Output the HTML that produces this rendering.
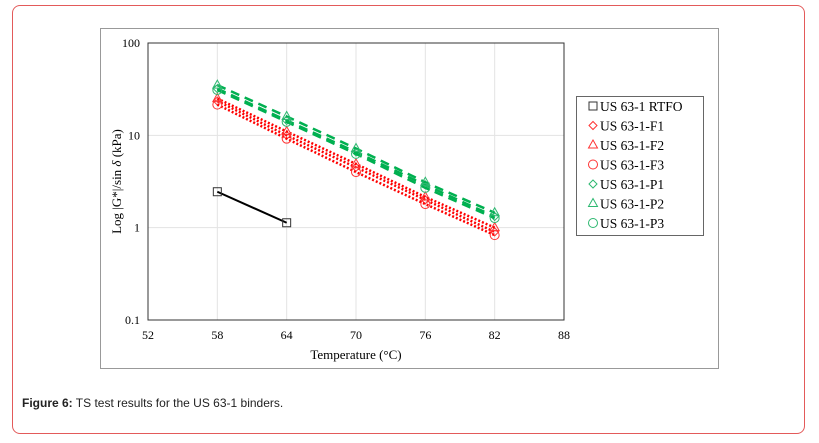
<!DOCTYPE html>
<html><head><meta charset="utf-8"><style>
body{margin:0;background:#fff;width:819px;height:443px;overflow:hidden;font-family:"Liberation Sans",sans-serif}
#card{position:absolute;left:12px;top:5px;width:791px;height:427px;border:1px solid #e35a5a;border-radius:8px}
#cap{position:absolute;left:22px;top:396px;font-size:12px;color:#222}
svg text{font-family:"Liberation Serif",serif}
</style></head><body>
<div id="card"></div>
<svg id="chart" width="819" height="443" style="position:absolute;left:0;top:0"></svg>
<div id="cap"><b>Figure 6:</b> TS test results for the US 63-1 binders.</div>
<script>
const temps=[58,64,70,76,82];
const rtfoT=[58,64];
const rtfo=[2.45,1.13];
const f1=[23.5,10,4.5,2.0,0.9];
const f2=[25,11,4.9,2.15,1.0];
const f3=[21.5,9.2,4.0,1.8,0.83];
const p1=[32,14.5,6.6,2.9,1.32];
const p2=[35,16,7.2,3.1,1.45];
const p3=[31,14,6.3,2.7,1.27];
const xTicks=[52,58,64,70,76,82,88];
const yTicks=[0.1,1,10,100];
const yLabels=["0.1","1","10","100"];
const legendNames=["US 63-1 RTFO","US 63-1-F1","US 63-1-F2","US 63-1-F3","US 63-1-P1","US 63-1-P2","US 63-1-P3"];
const L=148,R=564,T=43,B=320;
const NS="http://www.w3.org/2000/svg";
const svg=document.getElementById('chart');
const x=v=>L+(v-52)/(88-52)*(R-L);
const y=v=>B-(Math.log10(v)+1)/3*(B-T);
function mk(t,a,p){const e=document.createElementNS(NS,t);for(const k in a)e.setAttribute(k,a[k]);(p||svg).appendChild(e);return e;}
let e=mk('rect',{x:100.5,y:28.5,width:618,height:340,fill:'none',stroke:'#999'});


xTicks.forEach(v=>{const g=mk('line',{x1:x(v),x2:x(v),y1:T,y2:B,stroke:'#e3e3e3'});


const t=mk('text',{x:x(v),y:B+19,'text-anchor':'middle','font-size':12});t.textContent=v;

});
yTicks.forEach((v,i)=>{const g=mk('line',{x1:L,x2:R,y1:y(v),y2:y(v),stroke:'#e3e3e3'});


const t=mk('text',{x:L-8,y:y(v)+4,'text-anchor':'end','font-size':12});t.textContent=yLabels[i];

});
e=mk('rect',{x:L,y:T,width:R-L,height:B-T,fill:'none',stroke:'#333'});


function marker(type,cx,cy,col,p){
 if(type==='sq')return mk('rect',{x:cx-4,y:cy-4,width:8,height:8,fill:'none',stroke:col},p);
 if(type==='di')return mk('polygon',{points:`${cx},${cy-4} ${cx+4},${cy} ${cx},${cy+4} ${cx-4},${cy}`,fill:'none',stroke:col},p);
 if(type==='tr')return mk('polygon',{points:`${cx},${cy-5} ${cx+4.5},${cy+3} ${cx-4.5},${cy+3}`,fill:'none',stroke:col},p);
 return mk('circle',{cx,cy,r:4.5,fill:'none',stroke:col},p);}
const series=[
 {n:'rtfo',xs:rtfoT,d:rtfo,c:'#000',m:'sq',dash:'',w:2},
 {n:'f1',xs:temps,d:f1,c:'#f00',m:'di',dash:'2 2',w:2.5},
 {n:'f2',xs:temps,d:f2,c:'#f00',m:'tr',dash:'2 2',w:2.5},
 {n:'f3',xs:temps,d:f3,c:'#f00',m:'ci',dash:'2 2',w:2.5},
 {n:'p1',xs:temps,d:p1,c:'#00b050',m:'di',dash:'9 6',w:2.5},
 {n:'p2',xs:temps,d:p2,c:'#00b050',m:'tr',dash:'9 6',w:2.5},
 {n:'p3',xs:temps,d:p3,c:'#00b050',m:'ci',dash:'9 6',w:2.5}];
series.forEach(s=>{
 const g=mk('g',{});
 
 
 const pl=mk('polyline',{points:s.d.map((v,i)=>x(s.xs[i])+','+y(v)).join(' '),fill:'none',stroke:s.c,'stroke-width':s.w,'stroke-dasharray':s.dash},g);
 
 
 const mc=s.m==='sq'?'#333':(s.c==='#f00'?'#f33':'#2db870');
 s.d.forEach((v,i)=>{const m=marker(s.m,x(s.xs[i]),y(v),mc,g);
 
 });
});
let t=mk('text',{x:356,y:359,'text-anchor':'middle','font-size':13});t.textContent='Temperature (°C)';


t=mk('text',{x:0,y:0,'text-anchor':'middle','font-size':13,transform:`translate(121,${(T+B)/2}) rotate(-90)`});
t.innerHTML='Log |G*|/sin <tspan font-style="italic">δ</tspan> (kPa)';


const lg=mk('g',{});


mk('rect',{x:576.5,y:96.5,width:127,height:139,fill:'#fff',stroke:'#666'},lg);
legendNames.forEach((n,i)=>{const s=series[i];const cy=106+i*19.5;
 const mc=s.m==='sq'?'#333':(s.c==='#f00'?'#f33':'#2db870');
 const m=marker(s.m,593,cy,mc,lg);
 
 
 const tx=mk('text',{x:600,y:cy+5,'font-size':13.5},lg);tx.textContent=n;
 
 });
</script>
</body></html>
